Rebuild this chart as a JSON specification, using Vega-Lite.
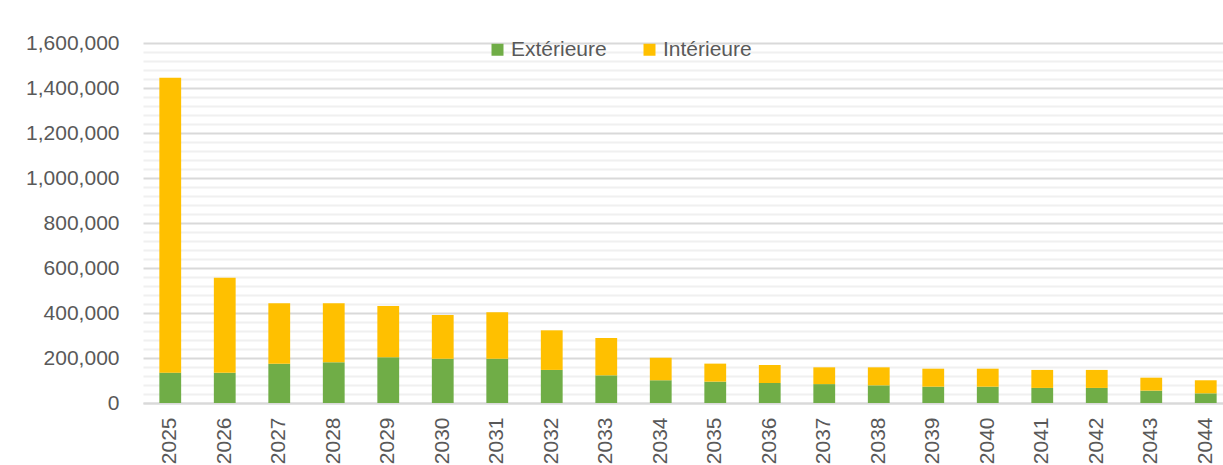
{
  "$schema": "https://vega.github.io/schema/vega-lite/v6.json",
  "autosize": "none",
  "width": 1080,
  "height": 360,
  "padding": {"left": 143, "top": 43, "right": 0, "bottom": 62},
  "background": "white",
  "config": {
    "view": {"stroke": null},
    "font": "Liberation Sans"
  },
  "data": {
    "values": [
      {"year": "2025", "type": "Extérieure", "value": 135000},
      {"year": "2025", "type": "Intérieure", "value": 1311000},
      {"year": "2026", "type": "Extérieure", "value": 135000},
      {"year": "2026", "type": "Intérieure", "value": 422000},
      {"year": "2027", "type": "Extérieure", "value": 175000},
      {"year": "2027", "type": "Intérieure", "value": 268000},
      {"year": "2028", "type": "Extérieure", "value": 181000},
      {"year": "2028", "type": "Intérieure", "value": 262000},
      {"year": "2029", "type": "Extérieure", "value": 203000},
      {"year": "2029", "type": "Intérieure", "value": 228000},
      {"year": "2030", "type": "Extérieure", "value": 197000},
      {"year": "2030", "type": "Intérieure", "value": 194000},
      {"year": "2031", "type": "Extérieure", "value": 197000},
      {"year": "2031", "type": "Intérieure", "value": 206000},
      {"year": "2032", "type": "Extérieure", "value": 147000},
      {"year": "2032", "type": "Intérieure", "value": 176000},
      {"year": "2033", "type": "Extérieure", "value": 123000},
      {"year": "2033", "type": "Intérieure", "value": 166000},
      {"year": "2034", "type": "Extérieure", "value": 101000},
      {"year": "2034", "type": "Intérieure", "value": 100000},
      {"year": "2035", "type": "Extérieure", "value": 95000},
      {"year": "2035", "type": "Intérieure", "value": 80000},
      {"year": "2036", "type": "Extérieure", "value": 89000},
      {"year": "2036", "type": "Intérieure", "value": 80000},
      {"year": "2037", "type": "Extérieure", "value": 84000},
      {"year": "2037", "type": "Intérieure", "value": 74500},
      {"year": "2038", "type": "Extérieure", "value": 78500},
      {"year": "2038", "type": "Intérieure", "value": 80000},
      {"year": "2039", "type": "Extérieure", "value": 72500},
      {"year": "2039", "type": "Intérieure", "value": 80000},
      {"year": "2040", "type": "Extérieure", "value": 72500},
      {"year": "2040", "type": "Intérieure", "value": 80000},
      {"year": "2041", "type": "Extérieure", "value": 67000},
      {"year": "2041", "type": "Intérieure", "value": 80000},
      {"year": "2042", "type": "Extérieure", "value": 67000},
      {"year": "2042", "type": "Intérieure", "value": 80000},
      {"year": "2043", "type": "Extérieure", "value": 55000},
      {"year": "2043", "type": "Intérieure", "value": 57500},
      {"year": "2044", "type": "Extérieure", "value": 43000},
      {"year": "2044", "type": "Intérieure", "value": 58000}
    ]
  },
  "mark": {"type": "bar"},
  "encoding": {
    "x": {
      "field": "year",
      "type": "ordinal",
      "scale": {"range": [0, 1090], "paddingInner": 0.6, "paddingOuter": 0.3},
      "axis": {
        "title": null,
        "labelAngle": -90,
        "labelFontSize": 21,
        "labelColor": "#595959",
        "labelPadding": 14,
        "ticks": false,
        "domainColor": "#d9d9d9",
        "domainWidth": 2,
        "grid": false
      }
    },
    "y": {
      "field": "value",
      "type": "quantitative",
      "stack": "zero",
      "scale": {"domain": [0, 1600000], "nice": false},
      "axis": {
        "title": null,
        "values": [0, 40000, 80000, 120000, 160000, 200000, 240000, 280000, 320000, 360000, 400000, 440000, 480000, 520000, 560000, 600000, 640000, 680000, 720000, 760000, 800000, 840000, 880000, 920000, 960000, 1000000, 1040000, 1080000, 1120000, 1160000, 1200000, 1240000, 1280000, 1320000, 1360000, 1400000, 1440000, 1480000, 1520000, 1560000, 1600000],
        "labelExpr": "datum.value % 200000 === 0 ? format(datum.value, ',') : ''",
        "labelFontSize": 21,
        "labelColor": "#595959",
        "labelPadding": 24,
        "ticks": false,
        "domain": false,
        "grid": true,
        "gridColor": {"condition": {"test": "datum.value % 200000 === 0", "value": "#d9d9d9"}, "value": "#f0f0f0"},
        "gridWidth": 2
      }
    },
    "color": {
      "field": "type",
      "type": "nominal",
      "scale": {"domain": ["Extérieure", "Intérieure"], "range": ["#70ad47", "#ffc000"]},
      "legend": {
        "title": null,
        "orient": "none",
        "direction": "horizontal",
        "legendX": 344,
        "legendY": -4,
        "symbolType": "square",
        "symbolSize": 144,
        "symbolStrokeWidth": 0,
        "labelFontSize": 21,
        "labelColor": "#595959",
        "labelOffset": 3,
        "columnPadding": 32,
        "padding": 0
      }
    },
    "order": {"field": "type", "sort": "ascending"}
  }
}
